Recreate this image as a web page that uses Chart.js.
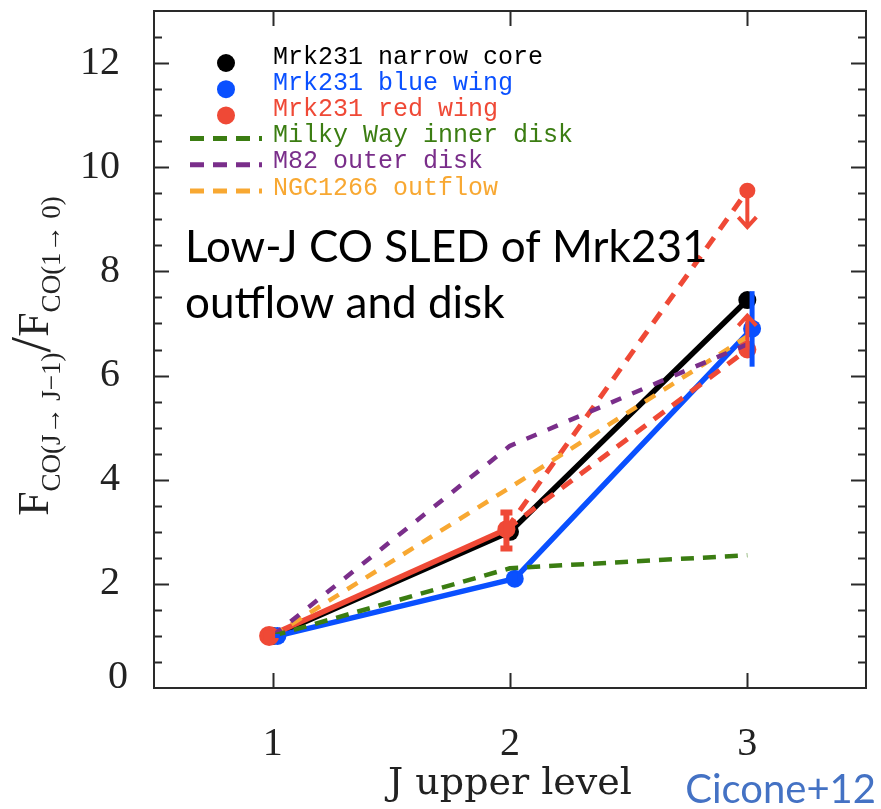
<!DOCTYPE html>
<html>
<head>
<meta charset="utf-8">
<script src="https://cdn.jsdelivr.net/npm/chart.js@4.4.1/dist/chart.umd.min.js"></script>
<style>
  html, body { margin: 0; padding: 0; background: #fff; }
  #wrap { width: 881px; height: 809px; }
</style>
</head>
<body>
<div id="wrap"><canvas id="sled" width="881" height="809"></canvas></div>
<script>
// upper J level of each CO transition
const jLevels = [1, 2, 3];

// line ratios F(J->J-1) / F(1->0)
const narrowCore = [1.0, 3.0, 7.45];
const blueWing = [1.0, 2.1, 6.9];
const redWing = [1.0, 3.05];      // J = 1, 2
const redWingUpper = 9.55;        // J = 3, upper limit
const redWingLower = 6.5;         // J = 3, lower limit
const milkyWay = [1.0, 2.3, 2.55];
const m82Outer = [1.0, 4.65, 6.6];
const ngc1266 = [1.0, 3.85, 6.75];

// error bars as [low, high]
const blueWingErr = [[0.96, 1.04], [1.98, 2.22], [6.17, 7.62]];
const redWingErr = [[0.96, 1.04], [2.68, 3.37]];
// arrow tips for the J=3 limits
const redUpperTip = 8.85;
const redLowerTip = 7.15;

// small x offsets so overlapping points stay visible
const blueShift = 0.02;
const redShift = -0.015;

const xTickLabels = [1, 2, 3];
const yTickLabels = [0, 2, 4, 6, 8, 10, 12];

const BLACK = '#000000';
const BLUE = '#0a50ff';
const RED = '#ef4936';
const GREEN = '#3b7d12';
const PURPLE = '#7a2e8a';
const ORANGE = '#f8a832';

function pts(xs, ys, dx) {
  return ys.map((y, i) => ({ x: xs[i] + dx, y: y }));
}

const datasets = [
  {
    label: 'Mrk231 narrow core', inLegend: true, marker: true,
    data: pts(jLevels, narrowCore, 0),
    borderColor: BLACK, backgroundColor: BLACK,
    borderWidth: 5.5, pointRadius: 9, order: 6
  },
  {
    label: 'Mrk231 blue wing', inLegend: true, marker: true,
    data: pts(jLevels, blueWing, blueShift),
    borderColor: BLUE, backgroundColor: BLUE,
    borderWidth: 5.5, pointRadius: 9, order: 5
  },
  {
    label: 'Mrk231 red wing', inLegend: true, marker: true,
    data: pts(jLevels, redWing, redShift),
    borderColor: RED, backgroundColor: RED,
    borderWidth: 5.5, pointRadius: [10, 9], order: 4
  },
  {
    label: 'red wing upper limit',
    data: [{ x: 2 + redShift, y: redWing[1] }, { x: 3, y: redWingUpper }],
    borderColor: RED, backgroundColor: RED, borderDash: [13, 10],
    borderWidth: 5, pointRadius: [0, 8], order: 3
  },
  {
    label: 'red wing lower limit',
    data: [{ x: 2 + redShift, y: redWing[1] }, { x: 3, y: redWingLower }],
    borderColor: RED, backgroundColor: RED, borderDash: [13, 10],
    borderWidth: 5, pointRadius: [0, 9], order: 3
  },
  {
    label: 'Milky Way inner disk', inLegend: true,
    data: pts(jLevels, milkyWay, 0),
    borderColor: GREEN, borderDash: [13, 9],
    borderWidth: 4.5, pointRadius: 0, order: 1
  },
  {
    label: 'M82 outer disk', inLegend: true,
    data: pts(jLevels, m82Outer, 0),
    borderColor: PURPLE, borderDash: [11, 12],
    borderWidth: 4.5, pointRadius: 0, order: 1
  },
  {
    label: 'NGC1266 outflow', inLegend: true,
    data: pts(jLevels, ngc1266, 0),
    borderColor: ORANGE, borderDash: [12, 10],
    borderWidth: 4.5, pointRadius: 0, order: 1
  }
];

const serif = '"Liberation Serif", "DejaVu Serif", serif';
const mono = '"Liberation Mono", "DejaVu Sans Mono", monospace';

// error bars and limit arrows
const errorPlugin = {
  id: 'errors',
  afterDatasetsDraw(chart) {
    const ctx = chart.ctx;
    const xs = chart.scales.x, ys = chart.scales.y;
    ctx.save();
    ctx.lineCap = 'butt';
    blueWingErr.forEach((e, i) => {
      const px = xs.getPixelForValue(jLevels[i] + blueShift);
      ctx.strokeStyle = BLUE;
      ctx.lineWidth = 5;
      ctx.beginPath();
      ctx.moveTo(px, ys.getPixelForValue(e[0]));
      ctx.lineTo(px, ys.getPixelForValue(e[1]));
      ctx.stroke();
    });
    redWingErr.forEach((e, i) => {
      const px = xs.getPixelForValue(jLevels[i] + redShift);
      const lo = ys.getPixelForValue(e[0]), hi = ys.getPixelForValue(e[1]);
      ctx.strokeStyle = RED;
      ctx.lineWidth = 6;
      ctx.beginPath();
      ctx.moveTo(px, lo);
      ctx.lineTo(px, hi);
      ctx.moveTo(px - 6, lo); ctx.lineTo(px + 6, lo);
      ctx.moveTo(px - 6, hi); ctx.lineTo(px + 6, hi);
      ctx.stroke();
    });
    // arrows for the J=3 red wing limits
    const ax = xs.getPixelForValue(3);
    const arrow = (from, to) => {
      const y0 = ys.getPixelForValue(from), y1 = ys.getPixelForValue(to);
      const dir = y1 > y0 ? -1 : 1;
      ctx.strokeStyle = RED;
      ctx.lineWidth = 4;
      ctx.beginPath();
      ctx.moveTo(ax, y0);
      ctx.lineTo(ax, y1);
      ctx.moveTo(ax - 9, y1 + dir * 10);
      ctx.lineTo(ax, y1);
      ctx.lineTo(ax + 9, y1 + dir * 10);
      ctx.stroke();
    };
    arrow(redWingUpper, redUpperTip);
    arrow(redWingLower, redLowerTip);
    ctx.restore();
  }
};

// frame, inward ticks, legend and annotation text
const framePlugin = {
  id: 'frame',
  afterDraw(chart) {
    const ctx = chart.ctx;
    const a = chart.chartArea;
    const xs = chart.scales.x, ys = chart.scales.y;
    ctx.save();
    ctx.strokeStyle = '#2a2a2a';
    ctx.lineWidth = 2;
    ctx.strokeRect(a.left, a.top, a.right - a.left, a.bottom - a.top);

    ctx.beginPath();
    for (let v = 0.5; v < 13; v += 0.5) {
      const py = Math.round(ys.getPixelForValue(v)) + 0.5;
      const len = v % 2 === 0 ? 15 : 8;
      ctx.moveTo(a.left, py); ctx.lineTo(a.left + len, py);
      ctx.moveTo(a.right, py); ctx.lineTo(a.right - len, py);
    }
    xTickLabels.forEach(v => {
      const px = Math.round(xs.getPixelForValue(v)) + 0.5;
      ctx.moveTo(px, a.bottom); ctx.lineTo(px, a.bottom - 15);
      ctx.moveTo(px, a.top); ctx.lineTo(px, a.top + 15);
    });
    ctx.stroke();

    // zero label sits a little above its tick
    ctx.fillStyle = '#222';
    ctx.font = '40px ' + serif;
    ctx.textAlign = 'right';
    ctx.textBaseline = 'middle';
    ctx.fillText(String(yTickLabels[0]), a.left - 26, ys.getPixelForValue(0) - 11);

    // y axis title with subscripts
    const parts = [
      ['F', 44, 0], ['CO(J\u2192 J\u22121)', 27, 12],
      ['/', 56, 2], ['F', 44, 0], ['CO(1\u2192 0)', 27, 12]
    ];
    let total = 0;
    parts.forEach(p => { ctx.font = p[1] + 'px ' + serif; total += ctx.measureText(p[0]).width; });
    ctx.translate(48, 356);
    ctx.rotate(-Math.PI / 2);
    ctx.textAlign = 'left';
    ctx.textBaseline = 'alphabetic';
    let cx = -total / 2;
    parts.forEach(p => {
      ctx.font = p[1] + 'px ' + serif;
      ctx.fillText(p[0], cx, p[2]);
      cx += ctx.measureText(p[0]).width;
    });
    ctx.setTransform(1, 0, 0, 1, 0, 0);

    // legend
    ctx.font = '25px ' + mono;
    ctx.textBaseline = 'middle';
    let row = 0;
    chart.data.datasets.forEach(ds => {
      if (!ds.inLegend) return;
      const ty = 57 + row * 26.2;
      if (ds.marker) {
        ctx.fillStyle = ds.borderColor;
        ctx.beginPath();
        ctx.arc(226, ty + 6, 9, 0, Math.PI * 2);
        ctx.fill();
      } else {
        ctx.strokeStyle = ds.borderColor;
        ctx.lineWidth = 5;
        ctx.setLineDash([14, 9]);
        ctx.beginPath();
        ctx.moveTo(190, ty + 3);
        ctx.lineTo(262, ty + 3);
        ctx.stroke();
        ctx.setLineDash([]);
      }
      ctx.fillStyle = ds.borderColor;
      ctx.fillText(ds.label, 273, ty);
      row++;
    });

    // annotation
    ctx.fillStyle = '#000';
    ctx.font = '44px Lato, "Open Sans", sans-serif';
    ctx.textBaseline = 'alphabetic';
    ctx.fillText('Low-J CO SLED of Mrk231', 185, 262);
    ctx.fillText('outflow and disk', 185, 318);

    ctx.fillStyle = '#4472c4';
    ctx.font = '40px Lato, "Open Sans", sans-serif';
    ctx.textAlign = 'right';
    ctx.fillText('Cicone+12', 876, 803);
    ctx.restore();
  }
};

new Chart(document.getElementById('sled'), {
  type: 'scatter',
  data: { datasets: datasets.map(d => Object.assign({ showLine: true, borderJoinStyle: 'round', pointBorderWidth: 0 }, d)) },
  options: {
    responsive: false,
    animation: false,
    devicePixelRatio: 1,
    layout: { padding: { left: 0, top: 11, right: 15, bottom: 0 } },
    plugins: { legend: { display: false }, tooltip: { enabled: false } },
    scales: {
      x: {
        type: 'linear', min: 0.5, max: 3.5,
        afterFit(s) { s.height = 121; s.paddingLeft = 0; s.paddingRight = 0; },
        grid: { display: false }, border: { display: false },
        ticks: {
          stepSize: 0.5, autoSkip: false, maxRotation: 0, padding: 24, color: '#222',
          font: { family: serif, size: 40 },
          callback: v => xTickLabels.includes(v) ? String(v) : ''
        },
        title: {
          display: true, text: 'J upper level', color: '#222',
          font: { family: '"DejaVu Serif", serif', size: 38 },
          padding: { top: 0, bottom: 2 }
        }
      },
      y: {
        type: 'linear', min: 0, max: 13,
        afterFit(s) { s.width = 154; s.paddingTop = 0; s.paddingBottom = 0; },
        grid: { display: false }, border: { display: false },
        ticks: {
          stepSize: 0.5, autoSkip: false, padding: 26, color: '#222',
          font: { family: serif, size: 40 },
          callback: v => (yTickLabels.includes(v) && v !== 0) ? String(v) : ''
        }
      }
    }
  },
  plugins: [errorPlugin, framePlugin]
});
</script>
</body>
</html>
